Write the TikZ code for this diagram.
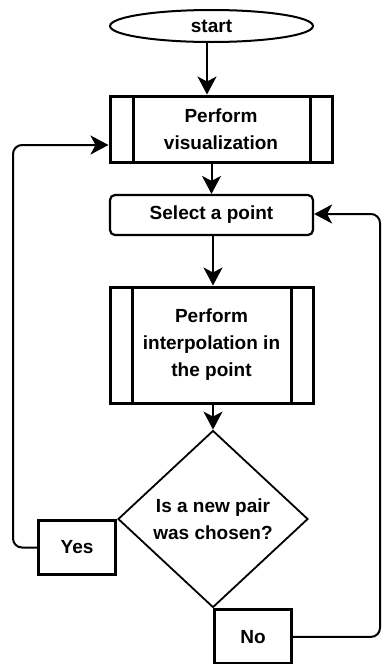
\documentclass[tikz,border=0pt]{standalone}
\usepackage{fontspec}
\setmainfont{Liberation Sans}
\usetikzlibrary{shapes.geometric,arrows.meta}
\tikzstyle{every node}=[font=\bfseries\fontsize{19}{27}\selectfont, align=center, inner sep=0pt]
\tikzstyle{flow}=[line width=2pt, -{Stealth[length=18pt,width=19pt,inset=5pt]}]
\tikzstyle{terminal}=[draw, ellipse, line width=2pt, minimum width=203pt, minimum height=32pt]
\tikzstyle{subproc}=[draw, rectangle, line width=3pt, minimum height=66pt]
\tikzstyle{process}=[draw, rectangle, rounded corners=5pt, line width=2.2pt, minimum width=203pt, minimum height=40pt]
\tikzstyle{decision}=[draw, diamond, line width=1.8pt, minimum width=190pt, minimum height=177pt, aspect=1.07]
\tikzstyle{answer}=[draw, rectangle, line width=3pt, minimum width=77pt, minimum height=54pt]

\begin{document}
\begin{tikzpicture}[x=1pt, y=-1pt]
            \useasboundingbox (0,0) rectangle (385,664);

            \node[terminal] (start) at (211.5,26) {start};
            \node[subproc, minimum width=222pt] (vis) at (221,129) {Perform\\visualization};
            \draw[line width=3pt] ([xshift=25pt]vis.north west) -- ([xshift=25pt]vis.south west);
            \draw[line width=3pt] ([xshift=-23pt]vis.north east) -- ([xshift=-23pt]vis.south east);

            \node[process] (select) at (211.5,215) {Select a point};

            \node[subproc, minimum width=203pt, minimum height=116pt] (interp) at (211.5,345)
                {Perform\\interpolation in\\the point};
            \draw[line width=3pt] ([xshift=24pt]interp.north west) -- ([xshift=24pt]interp.south west);
            \draw[line width=3pt] ([xshift=-23pt]interp.north east) -- ([xshift=-23pt]interp.south east);

            \node[decision] (choice) at (213,519) {Is a new pair\\was chosen?};
            \node[answer, anchor=north east] (yes) at (choice.west) {Yes};
            \node[answer, anchor=north west] (no) at (choice.south) {No};

            \draw[flow] (start.south -| 207,0) -- (vis.north -| 207,0);
            \draw[flow] (vis.south -| select.north) -- (select.north);
            \draw[flow] (select.south -| 213,0) -- (interp.north -| 213,0);
            \draw[flow] (interp.south -| choice.north) -- (choice.north);

            \coordinate (lrail) at (13,145);
            \coordinate (rrail) at (380,214);
            \draw[flow, rounded corners=9pt] (yes.west) -| (lrail) -- (lrail -| vis.west);
            \draw[flow, rounded corners=9pt] (no.east) -| (rrail) -- (rrail -| select.east);
        \end{tikzpicture}
\end{document}
